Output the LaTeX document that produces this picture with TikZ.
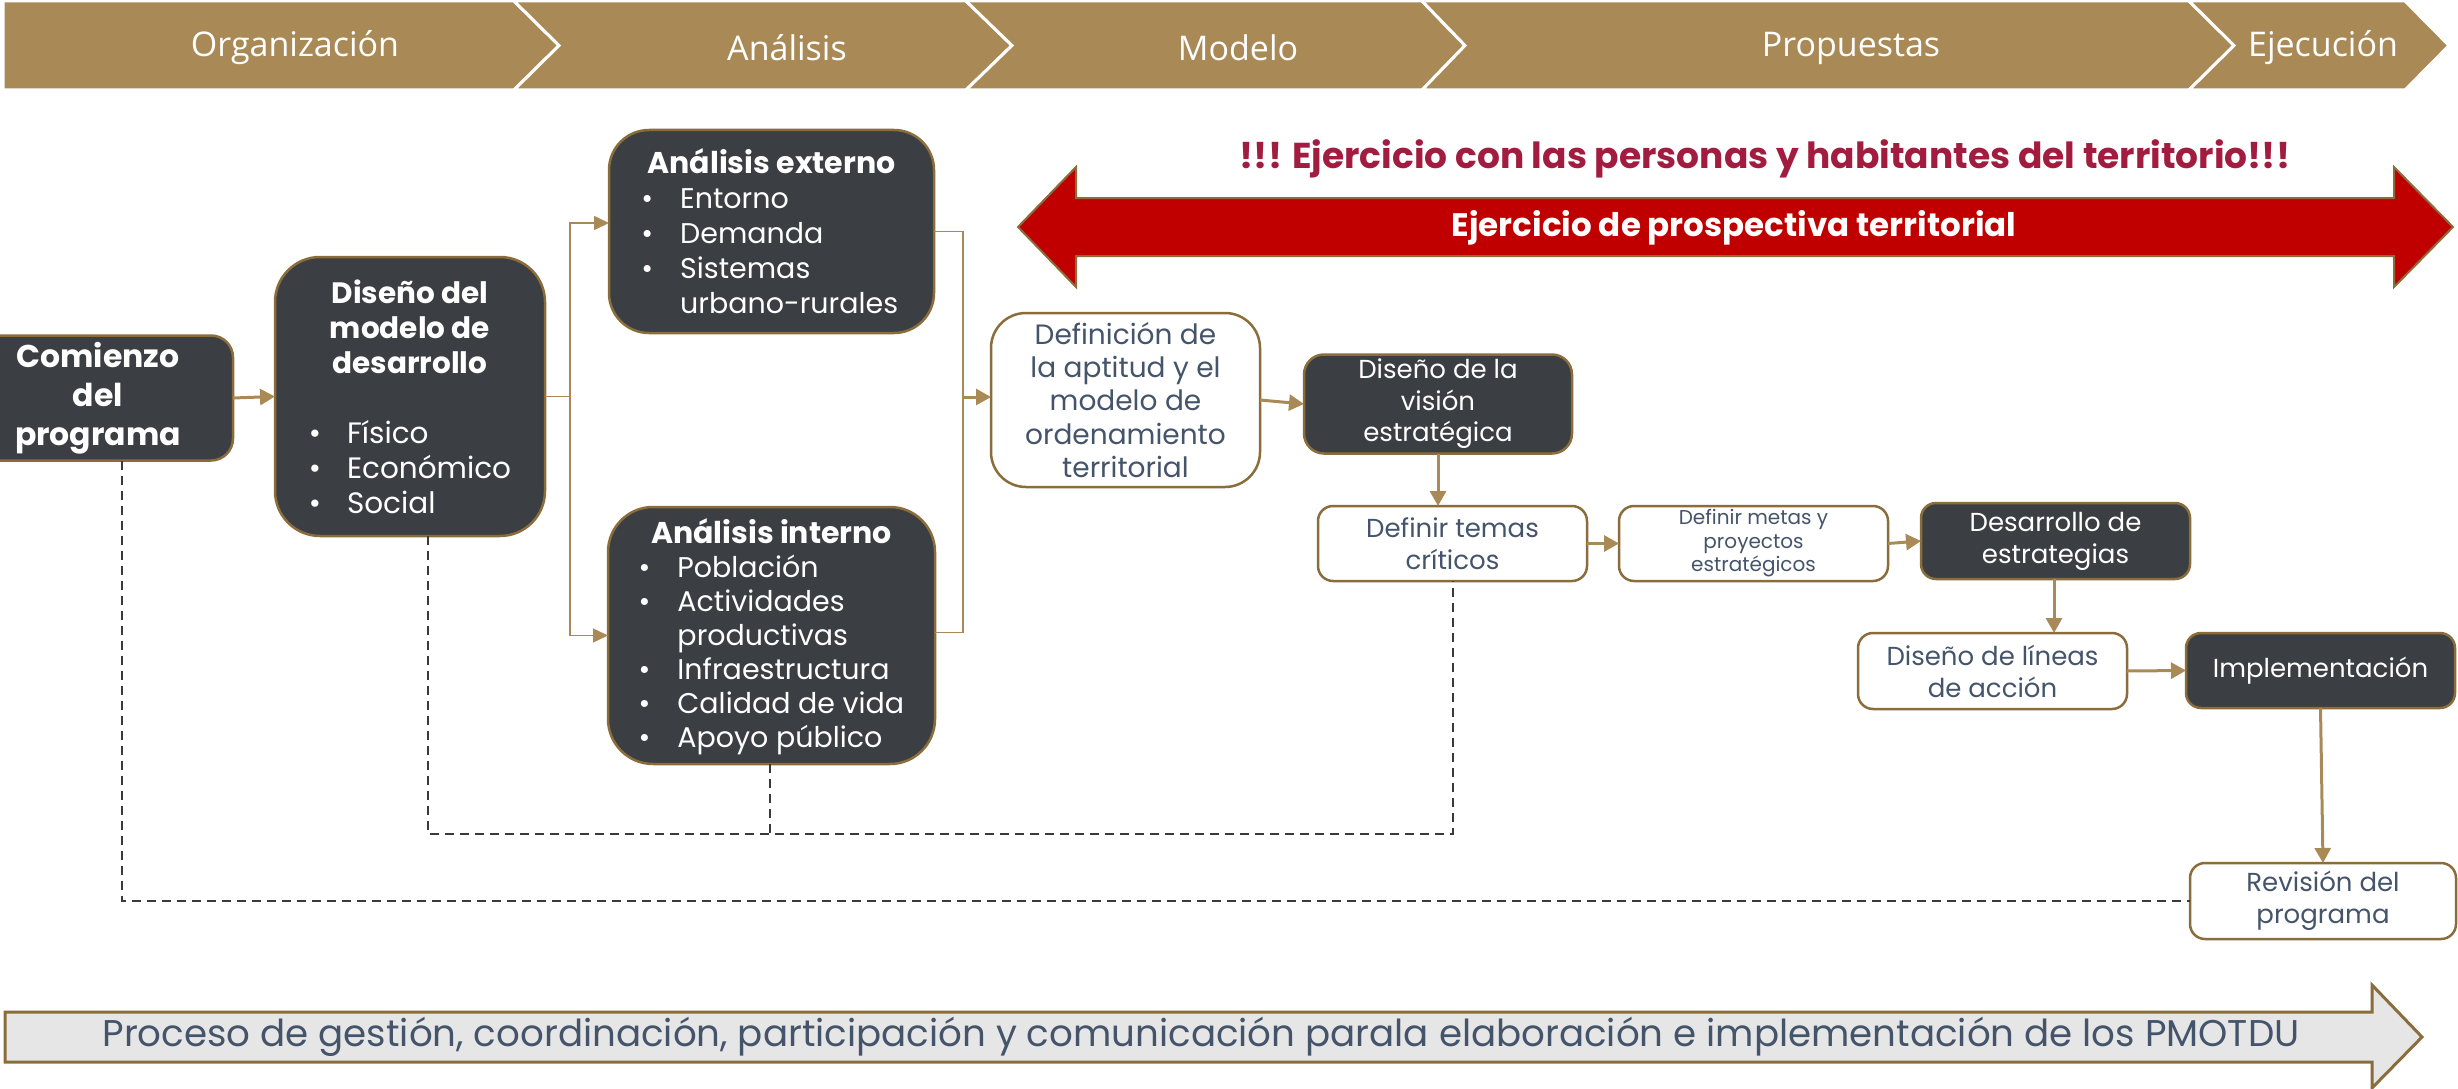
\documentclass[tikz,border=0pt]{standalone}
\usepackage{fontspec}
\setmainfont{Poppins}
\newfontfamily\chevfont{Open Sans}
\usetikzlibrary{arrows.meta}
\definecolor{gold}{HTML}{A98A57}
\definecolor{brd}{HTML}{8A6D3B}
\definecolor{dark}{HTML}{3B3F43}
\definecolor{slate}{HTML}{44546A}
\definecolor{crim}{HTML}{A21C3F}
\definecolor{redfill}{HTML}{C00000}
\definecolor{lgray}{HTML}{E7E6E6}
\definecolor{dashc}{HTML}{3A3A3A}
\begin{document}
\begin{tikzpicture}[x=1pt,y=-1pt,
  every node/.style={inner sep=0pt, outer sep=0pt},
  darkbox/.style={draw=brd, line width=2.5pt, fill=dark, text=white, align=center},
  whitebox/.style={draw=brd, line width=2.5pt, fill=white, text=slate, align=center},
  arr/.style={draw=gold, line width=3pt, -{Triangle[length=15pt,width=16pt]}},
  thinarr/.style={draw=gold, line width=1.5pt, -{Triangle[length=15pt,width=14pt]}},
  thinline/.style={draw=gold, line width=1.5pt},
  dsh/.style={draw=dashc, line width=2pt, dash pattern=on 9pt off 6pt},
  chev/.style={fill=gold, draw=white, line width=3pt, line join=miter},
  chevtext/.style={text=white, font=\chevfont\fontsize{34}{40}\selectfont},
  bodyA/.style={font=\fontsize{28.5}{35}\selectfont},
  bodyB/.style={font=\fontsize{26}{32}\selectfont},
]
\useasboundingbox (0,0) rectangle (2458,1089);

% ---- top chevrons
\path[chev] (3,1) -- (514,1) -- (559,45.5) -- (514,90) -- (3,90) -- cycle;
\path[chev] (514,1) -- (966,1) -- (1012,45.5) -- (966,90) -- (514,90) -- (559,45.5) -- cycle;
\path[chev] (966,1) -- (1422,1) -- (1465,45.5) -- (1422,90) -- (966,90) -- (1012,45.5) -- cycle;
\path[chev] (1422,1) -- (2189,1) -- (2234,45.5) -- (2189,90) -- (1422,90) -- (1465,45.5) -- cycle;
\path[chev] (2189,1) -- (2405,1) -- (2449,45.5) -- (2405,90) -- (2189,90) -- (2234,45.5) -- cycle;
\node[chevtext] (c1) at (295,48) {Organización};
\node[chevtext] (c2) at (787,48) {Análisis};
\node[chevtext] (c3) at (1238,48) {Modelo};
\node[chevtext] (c4) at (1851,48) {Propuestas};
\node[chevtext] (c5) at (2323,48) {Ejecución};

% ---- red double arrow
\path[fill=redfill, draw=brd, line width=2pt, line join=miter]
  (1018,227) -- (1076,167) -- (1076,198) -- (2394,198) -- (2394,167) -- (2453,227)
  -- (2394,287) -- (2394,256) -- (1076,256) -- (1076,287) -- cycle;
\node[text=white, font=\fontsize{32.5}{38}\selectfont\bfseries] (prosp) at (1734,228) {Ejercicio de prospectiva territorial};
\node[text=crim, font=\fontsize{36}{42}\selectfont\bfseries] (head) at (1765,159) {!!! Ejercicio con las personas y habitantes del territorio!!!};

% ---- boxes
\node[darkbox, rounded corners=22pt, minimum width=270pt, minimum height=125pt,
      font=\fontsize{31.5}{39}\selectfont\bfseries] (com) at (98,398) {Comienzo\\del\\programa};
\node[darkbox, rounded corners=45pt, minimum width=270pt, minimum height=279pt, font=\fontsize{29.5}{35}\selectfont] (dis) at (410,396.5)
  {\begin{tabular}{@{}c@{\hspace{26pt}}l@{}}
   \multicolumn{2}{c}{\rule{0pt}{34.5pt}\bfseries Diseño del}\\
   \multicolumn{2}{c}{\bfseries modelo de}\\
   \multicolumn{2}{c}{\bfseries desarrollo}\\[35pt]
   \textbullet & Físico\\
   \textbullet & Económico\\
   \textbullet & Social
   \end{tabular}};
\node[darkbox, rounded corners=40pt, minimum width=325pt, minimum height=203pt, bodyA] (ext) at (771.5,231.5)
  {\begin{tabular}{@{}c@{\hspace{27pt}}l@{}}
   \multicolumn{2}{c}{\rule{0pt}{33.5pt}\bfseries\fontsize{30}{35}\selectfont Análisis externo}\\
   \textbullet & Entorno\\
   \textbullet & Demanda\\
   \textbullet & Sistemas\\
               & urbano-rurales
   \end{tabular}};
\node[darkbox, rounded corners=45pt, minimum width=327pt, minimum height=257pt, font=\fontsize{28.5}{34}\selectfont] (int) at (771.5,635.5)
  {\begin{tabular}{@{}c@{\hspace{27pt}}l@{}}
   \multicolumn{2}{c}{\rule{0pt}{31pt}\bfseries\fontsize{30}{34}\selectfont Análisis interno}\\
   \textbullet & Población\\
   \textbullet & Actividades\\
               & productivas\\
   \textbullet & Infraestructura\\
   \textbullet & Calidad de vida\\
   \textbullet & Apoyo público
   \end{tabular}};
\node[whitebox, rounded corners=35pt, minimum width=269pt, minimum height=174pt,
      font=\fontsize{28}{33.3}\selectfont] (def) at (1125.5,400)
  {Definición de\\la aptitud y el\\modelo de\\ordenamiento\\territorial};
\node[darkbox, rounded corners=20pt, minimum width=268pt, minimum height=99pt,
      font=\fontsize{26}{31.5}\selectfont] (vis) at (1438,404) {Diseño de la\\visión\\estratégica};
\node[whitebox, rounded corners=15pt, minimum width=269pt, minimum height=75pt, bodyB] (tem) at (1452.5,543.5) {Definir temas\\críticos};
\node[whitebox, rounded corners=15pt, minimum width=269pt, minimum height=75pt,
      font=\fontsize{20}{23.5}\selectfont] (met) at (1753.5,543.5) {Definir metas y\\proyectos\\estratégicos};
\node[darkbox, rounded corners=15pt, minimum width=269pt, minimum height=76pt, bodyB] (des) at (2055.5,541) {Desarrollo de\\estrategias};
\node[whitebox, rounded corners=15pt, minimum width=269pt, minimum height=76pt, bodyB] (lin) at (1992.5,671) {Diseño de líneas\\de acción};
\node[darkbox, rounded corners=15pt, minimum width=269pt, minimum height=75pt, bodyB] (imp) at (2320.5,670.5) {Implementación};
\node[whitebox, rounded corners=15pt, minimum width=266pt, minimum height=76pt, bodyB] (rev) at (2323,901) {Revisión del\\programa};

% ---- connectors
\draw[arr] (com.east) -- (dis.west);
\coordinate (jl) at (570,396.5);
\coordinate (jr) at (963,397);
\draw[thinline] (dis.east) -- (jl);
\draw[thinarr] (jl) |- ([yshift=8.5pt]ext.west);
\draw[thinarr] (jl) |- (int.west);
\draw[thinline] (ext.east) -| (jr);
\draw[thinline] ([yshift=3pt]int.east) -| (jr);
\draw[arr] (jr) -- (def.west |- jr);
\draw[arr] (def.east) -- (vis.west);
\draw[arr] (vis.south) -- (vis.south |- tem.north);
\draw[arr] (tem.east) -- (met.west);
\draw[arr] (met.east) -- (des.west);
\draw[arr] ([xshift=-1.5pt]des.south) -- ([xshift=-1.5pt]des.south |- lin.north);
\draw[arr] (lin.east) -- (imp.west);
\draw[arr] (imp.south) -- (rev.north);

% ---- dashed feedback lines
\coordinate (dj) at (1452.5,834);
\draw[dsh] ([xshift=24pt]com.south) |- (rev.west);
\draw[dsh] ([xshift=18pt]dis.south) |- (dj) -- (tem.south);
\draw[dsh] ([xshift=-1.5pt]int.south) -- ([xshift=-1.5pt]int.south |- dj);

% ---- bottom arrow
\path[fill=lgray, draw=brd, line width=3pt, line join=miter]
  (5,1012) -- (2372,1012) -- (2372,985) -- (2422,1037) -- (2372,1088) -- (2372,1062) -- (5,1062) -- cycle;
\node[text=slate, font=\fontsize{37.2}{42}\selectfont] (proc) at (1201,1037)
  {Proceso de gestión, coordinación, participación y comunicación parala elaboración e implementación de los PMOTDU};
\end{tikzpicture}
\end{document}
